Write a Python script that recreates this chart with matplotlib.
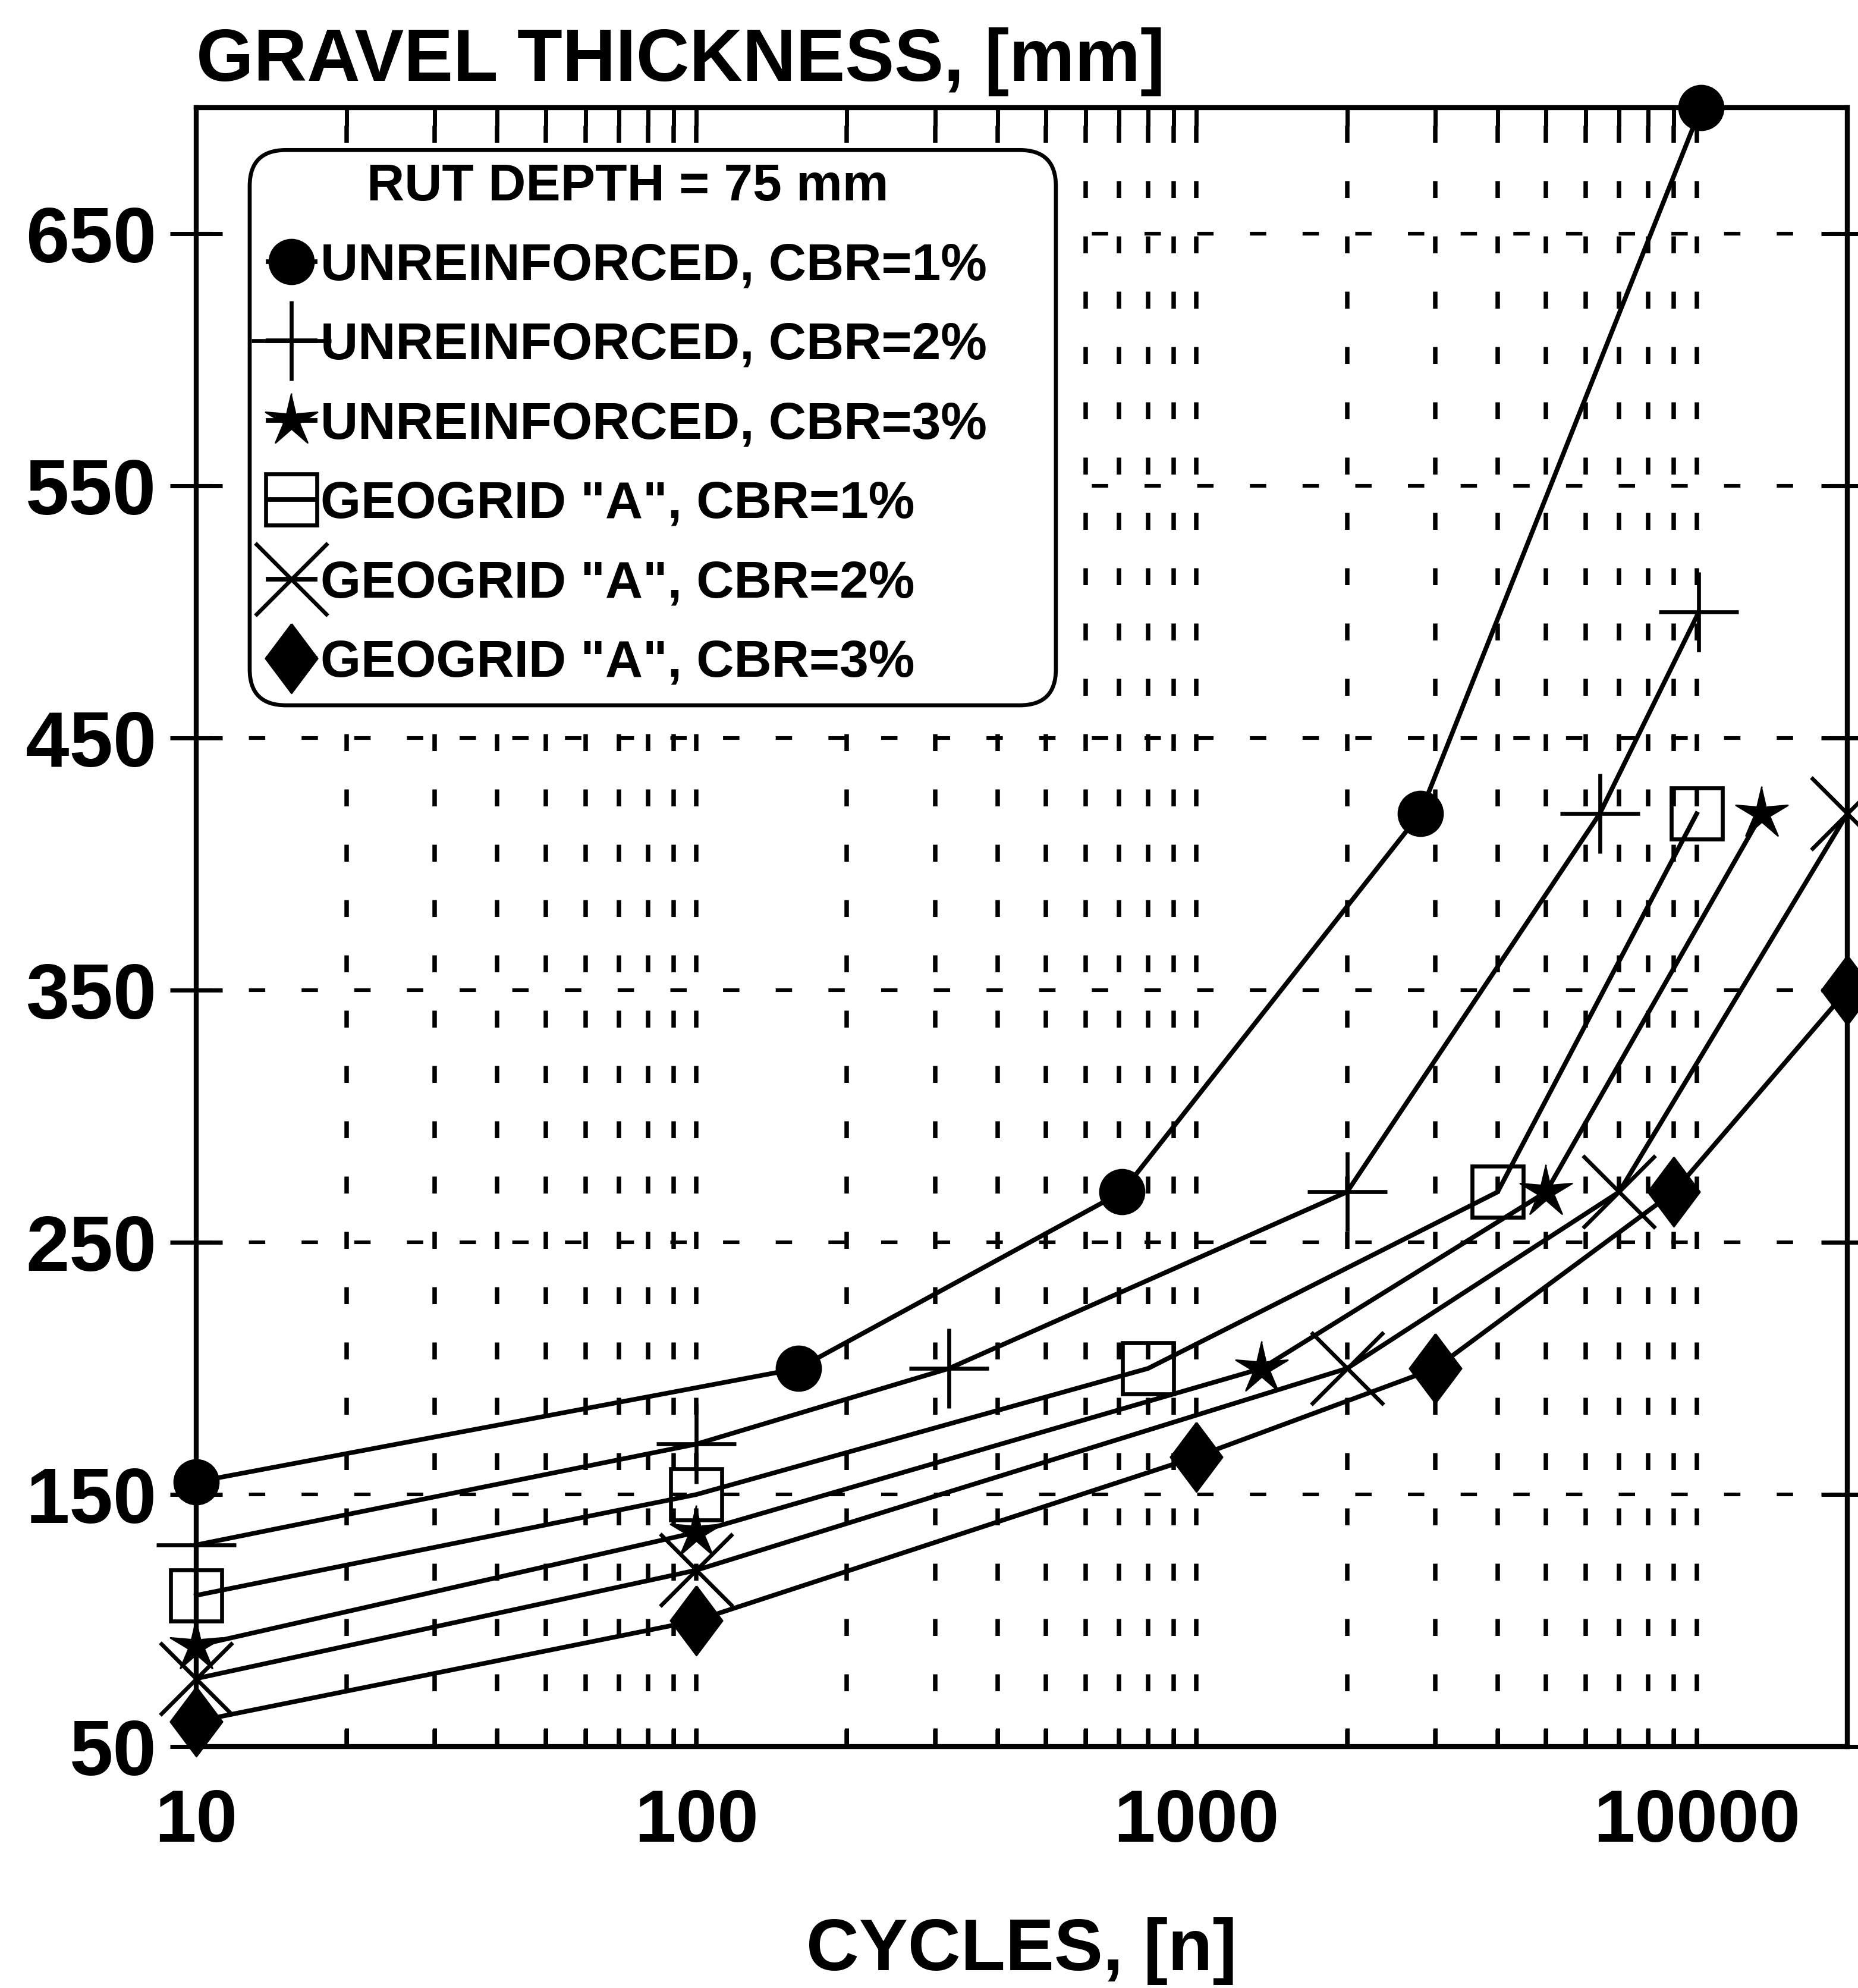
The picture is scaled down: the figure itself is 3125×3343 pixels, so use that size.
import numpy as np
import matplotlib
matplotlib.use('Agg')
import matplotlib.pyplot as plt
from matplotlib import font_manager
from matplotlib.patches import FancyBboxPatch
from matplotlib.ticker import LogLocator, NullFormatter

# values
unr1_x = [10, 160, 710, 2800, 10200]
unr1_y = [155, 200, 270, 420, 700]
unr2_x = [10, 100, 320, 2000, 6400, 10100]
unr2_y = [130, 170, 200, 270, 420, 500]
unr3_x = [10, 100, 1350, 5000, 13500]
unr3_y = [90, 135, 200, 270, 420]
geo1_x = [10, 100, 800, 4000, 10000]
geo1_y = [110, 150, 200, 270, 420]
geo2_x = [10, 100, 2000, 7000, 20000]
geo2_y = [77, 120, 200, 270, 420]
geo3_x = [10, 100, 1000, 3000, 9000, 20000]
geo3_y = [60, 100, 165, 200, 270, 350]

labels = ['UNREINFORCED, CBR=1%', 'UNREINFORCED, CBR=2%', 'UNREINFORCED, CBR=3%',
          'GEOGRID "A", CBR=1%', 'GEOGRID "A", CBR=2%', 'GEOGRID "A", CBR=3%']
x_ticks = [10, 100, 1000, 10000]
x_tick_labels = ['10', '100', '1000', '10000']
y_ticks = [50, 150, 250, 350, 450, 550, 650]

# fonts: narrow bold looks closest to the scanned type, if it is there
names = {f.name for f in font_manager.fontManager.ttflist}
if 'Liberation Sans Narrow' in names:
    fam = 'Liberation Sans Narrow'
    title_fs, xtick_fs, ytick_fs, lab_fs, small = 51, 51, 53, 50, 36
else:
    fam = 'Liberation Sans'
    title_fs, xtick_fs, ytick_fs, lab_fs, small = 44.7, 45, 47.5, 44.3, 31.5
plt.rcParams['font.family'] = [fam, 'DejaVu Sans']
plt.rcParams['font.weight'] = 'bold'

# marker shapes
ang = np.pi / 2 + np.arange(10) * np.pi / 5
rad = np.where(np.arange(10) % 2 == 0, 1.0, 0.3)
star = np.column_stack([rad * np.cos(ang), rad * np.sin(ang)])
diamond = [(0, 1), (0.75, 0), (0, -1), (-0.75, 0), (0, 1)]

fig = plt.figure(figsize=(15.625, 16.715), dpi=200)
ax = fig.add_axes([0.1056, 0.1214, 0.8886, 0.8244])

kw = dict(color='black', lw=2.8, mec='black', clip_on=False)
h1, = ax.plot(unr1_x, unr1_y, marker='o', ms=27, mfc='black', label=labels[0], **kw)
h2, = ax.plot(unr2_x, unr2_y, marker='+', ms=48, mew=2.4, label=labels[1], **kw)
h3, = ax.plot(unr3_x, unr3_y, marker=star, ms=33, mfc='black', label=labels[2], **kw)
h4, = ax.plot(geo1_x, geo1_y, marker='s', ms=31, mfc='none', mew=2.4, label=labels[3], **kw)
h5, = ax.plot(geo2_x, geo2_y, marker='x', ms=44, mew=2.4, label=labels[4], **kw)
h6, = ax.plot(geo3_x, geo3_y, marker=diamond, ms=42, mfc='black', label=labels[5], **kw)

ax.set_xscale('log')
ax.set_xlim(10, 20000)
ax.set_ylim(50, 700)
ax.set_xticks(x_ticks, x_tick_labels)
ax.xaxis.set_minor_locator(LogLocator(base=10, subs=np.arange(2, 10)))
ax.xaxis.set_minor_formatter(NullFormatter())
ax.set_yticks(y_ticks)

ax.tick_params(axis='x', which='both', direction='in', length=11, width=2.5,
               top=True, bottom=True, pad=25, labelsize=xtick_fs)
ax.tick_params(axis='y', which='major', direction='inout', length=32, width=2.5,
               left=True, right=True, pad=8, labelsize=ytick_fs)

ax.grid(True, which='both', axis='x', color='black', lw=2.7, ls=(0, (3.8, 8.6)))
ax.grid(True, which='major', axis='y', color='black', lw=2.2, ls=(0, (4.5, 10)))

for s in ax.spines.values():
    s.set_linewidth(3)

# legend frame drawn on its own so its size matches
frame = FancyBboxPatch((0.0324, 0.6354), 0.4883, 0.3388,
                       boxstyle='round,pad=0,rounding_size=0.022',
                       transform=ax.transAxes, fc='white', ec='black', lw=2.4,
                       zorder=3, clip_on=False)
ax.add_patch(frame)
leg = ax.legend(handles=[h1, h2, h3, h4, h5, h6], loc='upper left',
                bbox_to_anchor=(0.0436, 0.9664), frameon=False, borderpad=0,
                borderaxespad=0, handlelength=0.9, handletextpad=0.1,
                labelspacing=0.6, title='RUT DEPTH = 75 mm',
                prop={'size': small, 'weight': 'bold'},
                title_fontproperties={'size': small, 'weight': 'bold'})
leg.set_zorder(6)

fig.text(0.1056, 0.9593, 'GRAVEL THICKNESS, [mm]', fontsize=title_fs,
         fontweight='bold', ha='left', va='baseline')
fig.text(0.5498, 0.0090, 'CYCLES, [n]', fontsize=lab_fs, fontweight='bold',
         ha='center', va='baseline')

fig.savefig('out.png', dpi=200)
